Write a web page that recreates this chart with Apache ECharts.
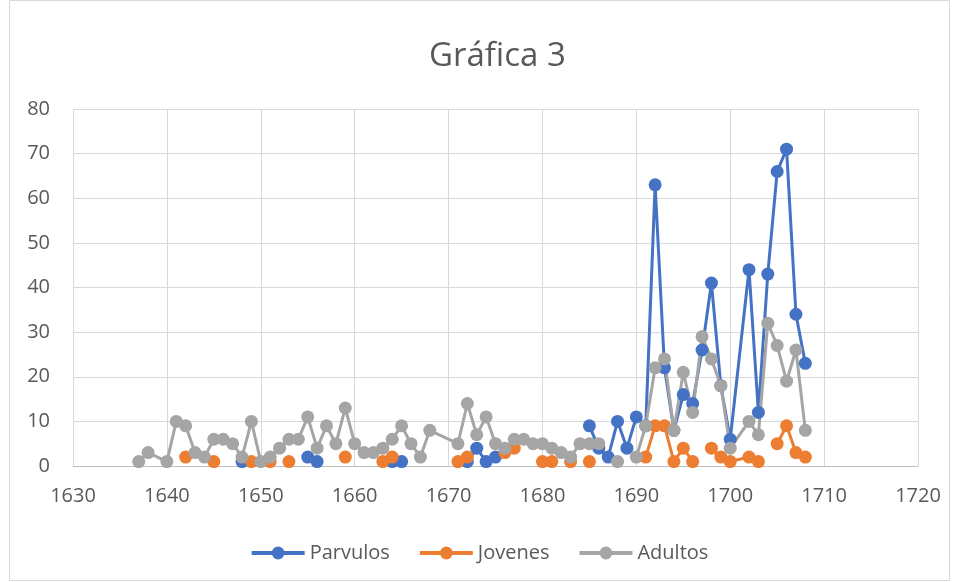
<!DOCTYPE html>
<html>
<head>
<meta charset="utf-8">
<script src="https://cdn.jsdelivr.net/npm/echarts@6/dist/echarts.min.js"></script>
<style>
html,body{margin:0;padding:0;background:#fff;}
#chart{width:958px;height:582px;}
</style>
</head>
<body>
<div id="chart"></div>
<script>
// Rows (years with any data); null = empty cell (gap in the line)
const years = [1637,1638,1640,1641,1642,1643,1644,1645,1646,1647,1648,1649,1650,1651,1652,1653,1654,1655,1656,1657,1658,1659,1660,1661,1662,1663,1664,1665,1666,1667,1668,1671,1672,1673,1674,1675,1676,1677,1678,1679,1680,1681,1682,1683,1684,1685,1686,1687,1688,1689,1690,1691,1692,1693,1694,1695,1696,1697,1698,1699,1700,1702,1703,1704,1705,1706,1707,1708];
const parvulos = [null,null,null,null,null,null,null,null,null,null,1,null,null,null,null,null,null,2,1,null,null,null,null,null,null,null,1,1,null,null,null,null,1,4,1,2,null,null,null,null,null,null,null,null,null,9,4,2,10,4,11,9,63,22,8,16,14,26,41,18,6,44,12,43,66,71,34,23];
const jovenes = [null,null,null,null,2,null,null,1,null,null,null,1,null,1,null,1,null,null,null,null,null,2,null,null,null,1,2,null,null,null,null,1,2,null,null,null,3,4,null,null,1,1,null,1,null,1,null,null,null,null,null,2,9,9,1,4,1,null,4,2,1,2,1,null,5,9,3,2];
const adultos = [1,3,1,10,9,3,2,6,6,5,2,10,1,2,4,6,6,11,4,9,5,13,5,3,3,4,6,9,5,2,8,5,14,7,11,5,4,6,6,5,5,4,3,2,5,5,5,null,1,null,2,9,22,24,8,21,12,29,24,18,4,10,7,32,27,19,26,8];
const seriesNames = ['Parvulos','Jovenes','Adultos'];
const seriesColors = ['#4472C4','#ED7D31','#A5A5A5'];
const xTicks = {min:1630, max:1720, interval:10};
const yTicks = {min:0, max:80, interval:10};

const allValues = [parvulos, jovenes, adultos];
const font = '"Open Sans", "Noto Sans", sans-serif';
const chart = echarts.init(document.getElementById('chart'), null, {renderer:'canvas'});
chart.setOption({
  animation:false,
  backgroundColor:'#ffffff',
  graphic:[{type:'rect', shape:{x:9.5,y:0.5,width:940,height:580}, style:{fill:'none', stroke:'#D9D9D9', lineWidth:1}, silent:true}],
  title:{text:'Gráfica 3', left:424, top:35, textStyle:{fontFamily:font, fontSize:33, fontWeight:'normal', color:'#595959'}},
  grid:{left:73, right:40, top:109, bottom:116},
  legend:{bottom:14, left:'center', itemWidth:53, itemHeight:16, itemGap:28,
    lineStyle:{width:4},
    textStyle:{fontFamily:font, fontSize:20, color:'#595959'},
    data:seriesNames},
  xAxis:{type:'value', min:xTicks.min, max:xTicks.max, interval:xTicks.interval,
    axisLine:{show:true, lineStyle:{color:'#BFBFBF', width:1}},
    axisTick:{show:false},
    axisLabel:{color:'#595959', fontFamily:font, fontSize:20, margin:20, formatter:v=>String(v)},
    splitLine:{show:true, lineStyle:{color:'#D9D9D9', width:1}}},
  yAxis:{type:'value', min:yTicks.min, max:yTicks.max, interval:yTicks.interval,
    axisLine:{show:false}, axisTick:{show:false},
    axisLabel:{color:'#595959', fontFamily:font, fontSize:20, margin:23},
    splitLine:{show:true, lineStyle:{color:'#D9D9D9', width:1}}},
  series: seriesNames.map((n,i)=>({
    name:n, type:'line', connectNulls:false,
    symbol:'circle', symbolSize:13, showSymbol:true,
    itemStyle:{color:seriesColors[i]},
    lineStyle:{color:seriesColors[i], width:3},
    data: years.map((y,k)=>[y, allValues[i][k]])
  }))
});
</script>
</body>
</html>
